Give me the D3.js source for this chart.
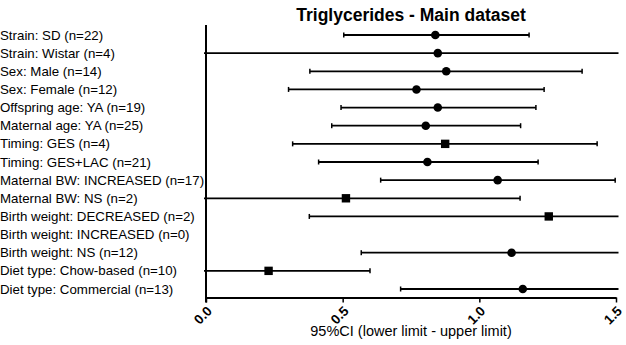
<!DOCTYPE html>
<html lang="en">
<head>
  <meta charset="UTF-8">
  <title>Triglycerides - Main dataset</title>
  <style>
    body { margin: 0; background: #fff; }
    text { font-family: Arial, "Liberation Sans", sans-serif; }
  </style>
</head>
<body>
  <div id="chart"></div>
  <script src="https://d3js.org/d3.v7.min.js"></script>
  <script>
    // Data (null = no estimate)
    const labels = [
      "Strain: SD (n=22)", "Strain: Wistar (n=4)", "Sex: Male (n=14)", "Sex: Female (n=12)",
      "Offspring age: YA (n=19)", "Maternal age: YA (n=25)", "Timing: GES (n=4)",
      "Timing: GES+LAC (n=21)", "Maternal BW: INCREASED (n=17)", "Maternal BW: NS (n=2)",
      "Birth weight: DECREASED (n=2)", "Birth weight: INCREASED (n=0)", "Birth weight: NS (n=12)",
      "Diet type: Chow-based (n=10)", "Diet type: Commercial (n=13)"
    ];
    const estimate = [0.839, 0.848, 0.879, 0.770, 0.848, 0.804, 0.875, 0.810, 1.067, 0.512, 1.254, null, 1.118, 0.229, 1.159];
    const lower    = [0.504, -0.40, 0.380, 0.302, 0.494, 0.460, 0.317, 0.412, 0.639, -0.30, 0.378, null, 0.568, -0.20, 0.712];
    const upper    = [1.182, 2.20, 1.376, 1.237, 1.207, 1.151, 1.431, 1.215, 1.497, 1.149, 1.80, null, 1.70, 0.600, 1.75];
    const marker   = ["circle", "circle", "circle", "circle", "circle", "circle", "square", "circle",
                      "circle", "square", "square", "circle", "circle", "square", "circle"];
    const xTicks = [0, 0.5, 1.0, 1.5];

    const width = 626, height = 345;

    const svg = d3.select("#chart").append("svg")
      .attr("width", width).attr("height", height);

    const x = d3.scaleLinear().domain([0, 1.5]).range([206, 616]);
    const y = d3.scalePoint().domain(d3.range(labels.length)).range([35, 289]);

    // title
    svg.append("text")
      .attr("x", (x(0) + x(1.5)) / 2).attr("y", 21)
      .attr("text-anchor", "middle")
      .style("font-size", "17.5px").style("font-weight", "bold")
      .text("Triglycerides - Main dataset");

    // row labels
    svg.selectAll(".lbl").data(labels).enter().append("text")
      .attr("class", "lbl")
      .attr("x", 0).attr("y", (d, i) => y(i) + 4.5)
      .style("font-size", "13.3px").style("fill", "#000")
      .text(d => d);

    // axes
    const axisY = 297.5;
    svg.append("line").attr("x1", x(0)).attr("x2", x(0))
      .attr("y1", 25).attr("y2", axisY + 5)
      .attr("stroke", "#000").attr("stroke-width", 2);
    const xAxis = svg.append("g").attr("transform", `translate(0,${axisY})`)
      .call(d3.axisBottom(x).tickValues(xTicks).tickSize(5).tickSizeOuter(0).tickFormat(d3.format(".1f")));
    xAxis.select(".domain").attr("stroke-width", 2);
    xAxis.selectAll(".tick line").attr("stroke-width", 1.5);
    xAxis.selectAll(".tick text")
      .attr("text-anchor", "end")
      .attr("transform", "translate(3,11) rotate(-45)")
      .attr("x", 0).attr("y", 0).attr("dy", "0.35em")
      .style("font-size", "13.5px").style("font-weight", "bold")
      .style("font-family", "Arial, 'Liberation Sans', sans-serif");

    svg.append("text")
      .attr("x", (x(0) + x(1.5)) / 2).attr("y", 336)
      .attr("text-anchor", "middle")
      .style("font-size", "14.5px")
      .text("95%CI (lower limit - upper limit)");

    // error bars
    const rows = labels.map((l, i) => ({ i, est: estimate[i], lo: lower[i], hi: upper[i], mk: marker[i] }))
      .filter(d => d.est !== null);
    const xMin = x(0) - 2, xMax = x(1.5) + 2.5;
    const g = svg.append("g");

    g.selectAll(".ci").data(rows).enter().append("line")
      .attr("x1", d => Math.max(xMin, x(d.lo)))
      .attr("x2", d => Math.min(xMax, x(d.hi)))
      .attr("y1", d => y(d.i)).attr("y2", d => y(d.i))
      .attr("stroke", "#000").attr("stroke-width", 1.8);

    const caps = [];
    rows.forEach(d => {
      if (x(d.lo) >= xMin) caps.push({ i: d.i, v: d.lo });
      if (x(d.hi) <= xMax) caps.push({ i: d.i, v: d.hi });
    });
    g.selectAll(".cap").data(caps).enter().append("line")
      .attr("x1", d => x(d.v)).attr("x2", d => x(d.v))
      .attr("y1", d => y(d.i) - 2.5).attr("y2", d => y(d.i) + 2.5)
      .attr("stroke", "#000").attr("stroke-width", 1.5);

    g.selectAll(".dot").data(rows.filter(d => d.mk === "circle")).enter().append("circle")
      .attr("cx", d => x(d.est)).attr("cy", d => y(d.i)).attr("r", 4.3)
      .attr("fill", "#000");
    g.selectAll(".sq").data(rows.filter(d => d.mk === "square")).enter().append("rect")
      .attr("x", d => x(d.est) - 4.2).attr("y", d => y(d.i) - 4.2)
      .attr("width", 8.4).attr("height", 8.4)
      .attr("fill", "#000");
  </script>
</body>
</html>
